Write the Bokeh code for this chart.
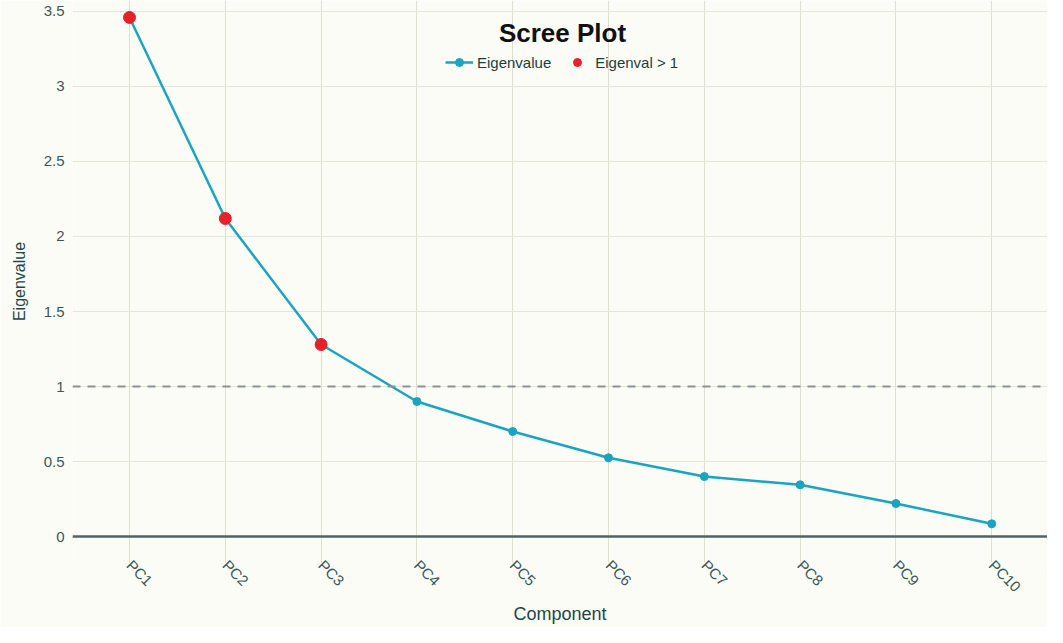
import math
from bokeh.plotting import figure
from bokeh.models import Span, Label, Legend, LegendItem, FixedTicker
from bokeh.embed import file_html
from bokeh.resources import INLINE

components = ["PC1", "PC2", "PC3", "PC4", "PC5", "PC6", "PC7", "PC8", "PC9", "PC10"]
eigenvalues = [3.46, 2.12, 1.28, 0.90, 0.70, 0.525, 0.40, 0.345, 0.22, 0.085]
y_ticks = [0, 0.5, 1, 1.5, 2, 2.5, 3, 3.5]
y_tick_labels = ["0", "0.5", "1", "1.5", "2", "2.5", "3", "3.5"]

xs = list(range(len(components)))
big_x = [x for x, v in zip(xs, eigenvalues) if v > 1]
big_y = [v for v in eigenvalues if v > 1]

BG = "#fcfcf7"
TXT = "#3b5757"
LINE = "#19a4c0"
RED = "#e8202a"
FONT = "Liberation Sans"

p = figure(width=1047, height=627, output_backend="svg", toolbar_location=None,
           x_range=(-0.595, 9.582), y_range=(-0.173, 3.573),
           min_border_left=72, min_border_right=0, min_border_top=0, min_border_bottom=65)
p.background_fill_color = BG
p.border_fill_color = BG
p.outline_line_color = None

p.xgrid.grid_line_color = "#dedfd0"
p.ygrid.grid_line_color = "#e4e6d8"
p.xgrid.grid_line_width = 1
p.ygrid.grid_line_width = 1

p.xaxis.ticker = FixedTicker(ticks=xs)
p.xaxis.major_label_overrides = {i: c for i, c in enumerate(components)}
p.xaxis.major_label_orientation = -math.pi / 4
p.yaxis.ticker = FixedTicker(ticks=y_ticks)
p.yaxis.major_label_overrides = {t: l for t, l in zip(y_ticks, y_tick_labels)}

for ax in (p.xaxis, p.yaxis):
    ax.axis_line_color = None
    ax.major_tick_line_color = None
    ax.minor_tick_line_color = None
    ax.major_tick_out = 0
    ax.major_tick_in = 0
    ax.major_label_text_font = FONT
    ax.major_label_text_font_size = "15px"
    ax.major_label_text_color = TXT
    ax.axis_label_text_font = FONT
    ax.axis_label_text_font_style = "normal"
    ax.axis_label_text_color = "#1e4646"
p.xaxis.axis_label = "Component"
p.yaxis.axis_label = "Eigenvalue"
p.xaxis.axis_label_text_font_size = "18px"
p.yaxis.axis_label_text_font_size = "16px"
p.yaxis.major_label_standoff = 8
p.xaxis.major_label_standoff = 0
p.xaxis.axis_label_standoff = 0
p.yaxis.axis_label_standoff = 13

p.add_layout(Span(location=0, dimension="width", line_color="#4f6464", line_width=2.5))
p.add_layout(Span(location=1, dimension="width", line_color="#8a9292", line_width=2, line_dash="8 7"))

ln = p.line(xs, eigenvalues, line_color=LINE, line_width=2.5)
pts = p.scatter(xs, eigenvalues, size=8, fill_color=LINE, line_color=LINE)
red = p.scatter(big_x, big_y, size=12, fill_color=RED, line_color=RED)

legend = Legend(items=[LegendItem(label="Eigenvalue", renderers=[ln, pts]),
                       LegendItem(label="Eigenval > 1", renderers=[red])],
                orientation="horizontal", location=(373, 490),
                background_fill_alpha=0, border_line_color=None,
                label_text_font=FONT, label_text_font_size="15px", label_text_color="#1e3c3c",
                glyph_width=28, label_standoff=4, spacing=12, padding=0, margin=0)
p.add_layout(legend, "center")

p.add_layout(Label(x=490, y=530, x_units="screen", y_units="screen", text="Scree Plot",
                   text_font=FONT, text_font_style="bold", text_font_size="26px",
                   text_color="#111", text_align="center", text_baseline="middle"))

open("out.html", "w").write(file_html(p, INLINE))
